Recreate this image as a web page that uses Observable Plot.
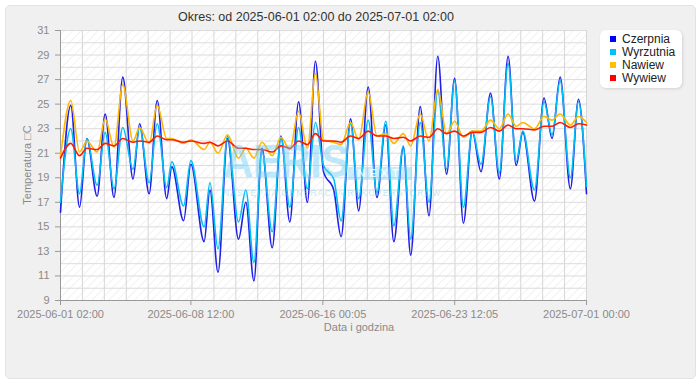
<!DOCTYPE html>
<html>
<head>
<meta charset="utf-8">
<script src="https://cdn.jsdelivr.net/npm/d3@7"></script>
<script src="https://cdn.jsdelivr.net/npm/@observablehq/plot@0.6"></script>
<style>
  html, body { margin: 0; padding: 0; background: #fff; width: 700px; height: 390px; overflow: hidden; font-family: "Liberation Sans", Arial, sans-serif; }
  #outer { position: absolute; left: 5px; top: 5px; width: 689px; height: 372px; background: #f0f0f0; border: 1px solid #e2e2e2; border-radius: 5px; }
  #title { position: absolute; left: 0; top: 10px; width: 632px; text-align: center; font-size: 12.5px; color: #333; }
  #chart { position: absolute; left: 0; top: 0; }
  #ylabel { position: absolute; left: 27px; top: 165px; transform: translate(-50%, -50%) rotate(-90deg); font-size: 11px; color: #8a8a8a; white-space: nowrap; }
  #xlabel { position: absolute; left: 359px; top: 321px; transform: translateX(-50%); font-size: 11px; color: #8a8a8a; white-space: nowrap; }
  #legend { position: absolute; left: 600px; top: 30px; width: 82px; height: 58px; background: #fff; border-radius: 6px; box-shadow: 1px 1px 3px rgba(0,0,0,0.12); }
  .li { position: absolute; left: 10px; font-size: 12px; color: #222; line-height: 13px; }
  .li span.sw { display: inline-block; width: 6px; height: 6px; margin-right: 6px; vertical-align: 1px; }
  #wm { position: absolute; left: 0; top: 0; pointer-events: none; }
  #wm .big { position: absolute; left: 223px; top: 142px; font-size: 42px; line-height: 34px; font-weight: bold; color: rgba(110, 205, 245, 0.45); transform: scaleY(1.12); transform-origin: top left; letter-spacing: -0.5px; }
  #wm .next { position: absolute; left: 348px; top: 167px; width: 64px; height: 13px; background: rgba(110, 205, 245, 0.35); color: rgba(255,255,255,0.8); font-size: 11px; font-weight: bold; text-align: center; line-height: 13px; letter-spacing: 4px; }
  #wm .small { position: absolute; left: 223px; top: 189px; font-size: 8.5px; line-height: 9px; color: rgba(110, 205, 245, 0.45); letter-spacing: 1.2px; white-space: nowrap; }
</style>
</head>
<body>
<div id="outer"></div>
<div id="title">Okres: od 2025-06-01 02:00 do 2025-07-01 02:00</div>
<div id="chart"></div>
<div id="wm"><div class="big">AERIS</div><div class="next">NEXT</div><div class="small">NASTĘPNA GENERACJA REKUPERATORÓW</div></div>
<div id="ylabel">Temperatura □C</div>
<div id="xlabel">Data i godzina</div>
<div id="legend"></div>
<script>
// ---- data ----
const times = [
  "2025-06-01T02:00","2025-06-01T16:00","2025-06-02T04:00","2025-06-02T14:00","2025-06-03T04:00",
  "2025-06-03T15:00","2025-06-04T03:00","2025-06-04T15:00","2025-06-05T05:00","2025-06-05T14:00",
  "2025-06-06T03:00","2025-06-06T14:00","2025-06-07T03:00","2025-06-07T10:00","2025-06-08T02:00",
  "2025-06-08T12:00","2025-06-09T06:00","2025-06-09T14:00","2025-06-10T01:00","2025-06-10T14:00",
  "2025-06-11T05:00","2025-06-11T15:00","2025-06-12T02:00","2025-06-12T13:00","2025-06-13T03:00",
  "2025-06-13T15:00","2025-06-14T03:00","2025-06-14T15:00","2025-06-15T03:00","2025-06-15T14:00",
  "2025-06-16T01:00","2025-06-16T15:00","2025-06-17T01:00","2025-06-17T14:00","2025-06-18T01:00",
  "2025-06-18T14:00","2025-06-19T02:00","2025-06-19T14:00","2025-06-20T01:00","2025-06-20T14:00",
  "2025-06-21T00:00","2025-06-21T13:00","2025-06-22T01:00","2025-06-22T13:00","2025-06-23T01:00",
  "2025-06-23T12:00","2025-06-24T00:00","2025-06-24T12:00","2025-06-25T00:00","2025-06-25T13:00",
  "2025-06-26T01:00","2025-06-26T13:00","2025-06-27T00:00","2025-06-27T09:00","2025-06-28T01:00",
  "2025-06-28T14:00","2025-06-29T01:00","2025-06-29T12:00","2025-06-30T02:00","2025-06-30T13:00",
  "2025-07-01T00:00"
];
const czerpnia = [
  16.2,24.9,16.6,22.2,17.5, 24.2,17.4,27.2,18.9,23.4,
  17.7,25.3,17.3,19.9,15.5, 20.1,13.8,18.0,11.3,22.2,
  14.0,17.0,10.6,21.4,13.3, 22.4,15.4,25.2,17.0,28.5,
  19.5,18.0,14.2,23.8,16.3, 26.4,17.4,23.3,13.8,21.5,
  12.7,24.8,15.9,28.9,19.3, 27.1,15.3,22.8,19.5,25.9,
  18.9,28.9,20.0,22.7,17.1, 25.5,22.2,27.2,18.1,25.4,
  17.7
];
const wyrzutnia = [
  17.0,23.0,17.7,22.2,18.4, 22.7,18.1,23.1,19.7,23.1,
  18.6,23.4,18.2,20.3,16.7, 20.4,15.0,18.6,13.2,22.4,
  15.4,18.0,12.1,21.2,14.6, 22.3,16.6,23.1,18.1,23.5,
  20.0,18.9,15.5,23.4,17.3, 23.7,17.8,23.6,15.1,21.6,
  14.0,23.5,17.0,26.1,19.7, 26.9,16.6,22.8,20.1,25.6,
  19.4,28.3,20.3,22.8,18.0, 25.2,22.5,26.9,19.0,25.2,
  18.3
];
const nawiew = [
  20.7,25.3,21.1,22.0,21.1, 23.8,21.5,26.6,22.0,23.1,
  21.8,24.9,22.2,22.2,21.8, 22.1,21.3,21.9,21.0,22.5,
  20.6,21.4,20.6,21.9,20.8, 22.3,21.3,24.4,21.4,27.5,
  22.1,21.9,21.7,23.5,22.1, 26.0,22.4,22.6,21.8,22.6,
  21.6,24.2,22.0,26.2,22.6, 23.6,22.3,22.8,22.8,23.7,
  23.0,24.2,23.2,23.5,23.0, 24.0,23.7,24.2,23.3,24.0,
  23.5
];
const wywiew = [
  20.6,21.8,20.8,21.4,21.3, 21.8,21.6,22.2,21.9,22.0,
  21.9,22.4,22.1,22.1,21.9, 22.0,21.8,21.9,21.6,22.0,
  21.4,21.4,21.3,21.3,21.1, 21.6,21.4,22.0,21.7,22.6,
  22.0,22.0,21.9,22.4,22.2, 22.8,22.4,22.4,22.2,22.3,
  22.0,22.4,22.3,23.0,22.6, 22.8,22.4,22.7,22.7,23.1,
  22.8,23.3,23.0,23.0,22.9, 23.2,23.2,23.5,23.1,23.4,
  23.3
];
const seriesNames = ["Czerpnia", "Wyrzutnia", "Nawiew", "Wywiew"];
const seriesColors = ["#1f1fe8", "#00bdf5", "#ffb800", "#ff1a00"];
const legendColors = ["#0000ff", "#00bfff", "#ffbf00", "#ff0000"];
const xTickLabels = ["2025-06-01 02:00", "2025-06-08 12:00", "2025-06-16 00:05", "2025-06-23 12:05", "2025-07-01 00:00"];
const yTicks = [9, 11, 13, 15, 17, 19, 21, 23, 25, 27, 29, 31];

// ---- build table ----
const parse = s => new Date(s.replace(" ", "T"));
const valueArrays = [czerpnia, wyrzutnia, nawiew, wywiew];
const data = seriesNames.flatMap((name, k) =>
  times.map((t, i) => ({series: name, date: parse(t), value: valueArrays[k][i]})));

const tickDates = xTickLabels.map(parse);
const labelByTime = new Map(tickDates.map((d, i) => [+d, xTickLabels[i]]));
const start = tickDates[0], end = tickDates[tickDates.length - 1];
const gridDates = d3.range(25).map(i => new Date(+start + i * (end - start) / 24));
const yGrid = d3.range(9, 32);

const chart = Plot.plot({
  width: 645,
  height: 345,
  marginLeft: 60,
  marginRight: 59,
  marginTop: 30,
  marginBottom: 45,
  style: {background: "transparent", fontFamily: "Liberation Sans, Arial, sans-serif", fontSize: "11px", color: "#8a8a8a"},
  x: {type: "time", domain: [start, end]},
  y: {domain: [9, 31]},
  color: {domain: seriesNames, range: seriesColors},
  marks: [
    Plot.frame({fill: "url(#hatch)", stroke: null}),
    Plot.gridY(yGrid, {stroke: "#dcdcdc", strokeOpacity: 1, strokeWidth: 1}),
    Plot.gridX(gridDates, {stroke: "#d6d6d6", strokeOpacity: 1, strokeWidth: 1}),
    Plot.axisY(yTicks, {tickSize: 5, tickPadding: 6, stroke: "#999", fill: "#8a8a8a", label: null}),
    Plot.axisX(tickDates, {tickSize: 5, tickPadding: 5, stroke: "#999", fill: "#8a8a8a", label: null,
      tickFormat: d => labelByTime.get(+d)}),
    Plot.ruleX([start], {stroke: "#999"}),
    Plot.ruleY([9], {stroke: "#999"}),
    Plot.line(data, {x: "date", y: "value", z: "series", stroke: "series", strokeWidth: 1.6, curve: "monotone-x"})
  ]
});

// hatch pattern
const svg = d3.select(chart.tagName.toLowerCase() === "svg" ? chart : chart.querySelector("svg"));
const defs = svg.insert("defs", ":first-child");
const pat = defs.append("pattern").attr("id", "hatch").attr("width", 6).attr("height", 6)
  .attr("patternUnits", "userSpaceOnUse").attr("patternTransform", "rotate(45)");
pat.append("rect").attr("width", 6).attr("height", 6).attr("fill", "#fff");
pat.append("line").attr("x1", 0).attr("y1", 0).attr("x2", 0).attr("y2", 6).attr("stroke", "#eeeeee").attr("stroke-width", 1.5);

document.getElementById("chart").appendChild(chart);

// legend
const legend = document.getElementById("legend");
seriesNames.forEach((n, i) => {
  const d = document.createElement("div");
  d.className = "li";
  d.style.top = (3 + i * 13) + "px";
  d.innerHTML = `<span class="sw" style="background:${legendColors[i]}"></span>${n}`;
  legend.appendChild(d);
});
</script>
</body>
</html>
